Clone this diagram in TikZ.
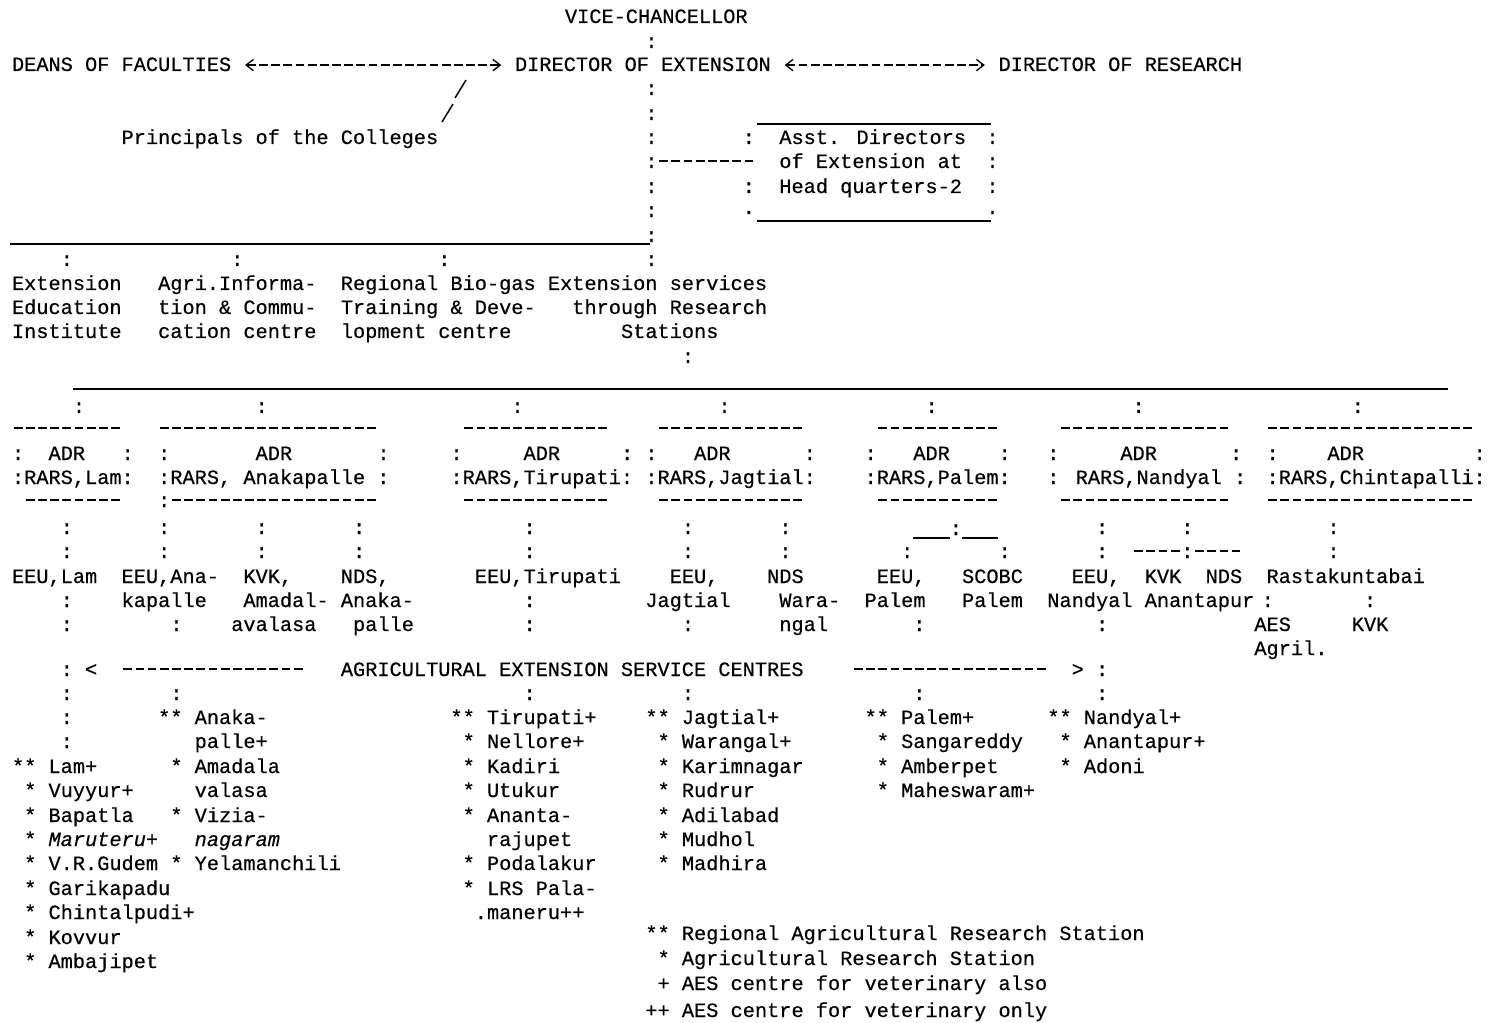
\documentclass[tikz,border=0pt]{standalone}
\usepackage{fontspec}
\setmainfont{Liberation Mono}[FakeBold=0.4]
\usetikzlibrary{arrows.meta}
\newcommand\tyfont{\fontsize{15.22pt}{18pt}\selectfont}
\newcounter{cnum}
\newcommand\tyX[1]{12+12.18*#1}
\newcommand\tyT[4]{\node[txt] (#1) at (\tyX{#2},#3) {#4};}
\newcommand\tyC[2]{\stepcounter{cnum}\node[txt] (k\arabic{cnum}) at (\tyX{#1},#2) {:};}
\newcommand\tyCs[2]{\foreach \yy in {#2}{\tyC{#1}{\yy}}}
\newcommand\tyR[2]{\foreach \cc in {#2}{\tyC{\cc}{#1}}}
\newcommand\tyH[3]{\draw[hy] ({\tyX{#1}+1.7},#3) -- ({\tyX{#2}+12.18-1.7},#3);}
\begin{document}
\begin{tikzpicture}[x=0.75pt,y=-0.75pt,
  txt/.style={anchor=mid west,inner sep=0pt,outer sep=0pt,font=\tyfont,yshift=-2.6pt},
  hy/.style={line width=1pt,dash pattern=on 6.6pt off 2.535pt},
  rule/.style={line width=1.3pt},
  arr/.style={hy,{Straight Barb[length=5.5pt,width=8.5pt]}-{Straight Barb[length=5.5pt,width=8.5pt]},shorten <=10.4pt,shorten >=10.3pt}]
\fill[white] (0,0) rectangle (1498,1022);
\useasboundingbox (0,0) rectangle (1498,1022);
% ---------- top ----------
\tyT{vc}{45.4}{16}{VICE-CHANCELLOR}
\tyC{52}{41}
\tyT{deans}{0}{64}{DEANS OF FACULTIES}
\tyT{dirext}{41.3}{64}{DIRECTOR OF EXTENSION}
\tyT{dirres}{81}{64}{DIRECTOR OF RESEARCH}
\draw[arr] ([yshift=1.8pt]deans.mid east) -- ([yshift=1.8pt]dirext.mid west);
\draw[arr] ([yshift=1.8pt]dirext.mid east) -- ([yshift=1.8pt]dirres.mid west);
\coordinate (s1a) at (466,80); \coordinate (s1b) at (455,98);
\coordinate (s2a) at (453,104); \coordinate (s2b) at (442,122);
\draw[line width=1.1pt] (s1a) -- (s1b);
\draw[line width=1.1pt] (s2a) -- (s2b);
\tyT{princ}{9}{137}{Principals of the Colleges}
\tyCs{52}{88,113,137,161,186,210,235}
\tyH{53}{60}{161}
% box of assistant directors
\draw[line width=1pt] (757,124) -- (991,124);
\tyCs{60}{137,186}
\tyCs{80}{137,161,186}
\tyT{ad1}{63}{137}{Asst. Directors}
\tyT{ad2}{63}{161}{of Extension at}
\tyT{ad3}{63}{186}{Head quarters-2}
\tyT{dotl}{60}{207}{.}
\tyT{dotr}{80}{207}{.}
\draw[line width=1pt] (757,221) -- (991,221);
% ---------- second level ----------
\draw[rule] (10,244) -- (650,244);
\tyR{259}{4,18,35,52}
\tyT{eei1}{0}{283}{Extension}
\tyT{eei2}{0}{307}{Education}
\tyT{eei3}{0}{331}{Institute}
\tyT{aic1}{12}{283}{Agri.Informa-}
\tyT{aic2}{12}{307}{tion \& Commu-}
\tyT{aic3}{12}{331}{cation centre}
\tyT{rbg1}{27}{283}{Regional Bio-gas}
\tyT{rbg2}{27}{307}{Training \& Deve-}
\tyT{rbg3}{27}{331}{lopment centre}
\tyT{esr1}{44}{283}{Extension services}
\tyT{esr2}{46}{307}{through Research}
\tyT{esr3}{50}{331}{Stations}
\tyC{55}{356}
\draw[rule] (73,389) -- (1448,389);
\tyR{406}{5,20,41,58,75,92,110}
% ---------- ADR boxes ----------
\tyH{0}{8}{428}   \tyH{1}{8}{500}
\tyH{12}{29}{428} \tyH{13}{29}{500}
\tyH{37}{48}{428} \tyH{37}{48}{500}
\tyH{53}{64}{428} \tyH{53}{64}{500}
\tyH{71}{80}{428} \tyH{71}{80}{500}
\tyH{86}{99}{428} \tyH{86}{99}{500}
\tyH{103}{119}{428} \tyH{103}{119}{500}
\tyR{453}{0,9,12,30,36,50,52,65,70,81,85,100,103,120}
\tyT{adr1}{3}{453}{ADR}
\tyT{adr2}{20}{453}{ADR}
\tyT{adr3}{42}{453}{ADR}
\tyT{adr4}{56}{453}{ADR}
\tyT{adr5}{74}{453}{ADR}
\tyT{adr6}{91}{453}{ADR}
\tyT{adr7}{108}{453}{ADR}
\tyT{rars1}{0}{477}{:RARS,Lam:}
\tyT{rars2}{12}{477}{:RARS, Anakapalle :}
\tyT{rars3}{36}{477}{:RARS,Tirupati:}
\tyT{rars4}{52}{477}{:RARS,Jagtial:}
\tyT{rars5}{70}{477}{:RARS,Palem:}
\tyT{rars6}{85}{477}{: RARS,Nandyal :}
\tyT{rars7}{103}{477}{:RARS,Chintapalli:}
% ---------- units below boxes ----------
\tyC{12}{500}
\tyR{527}{4,12,20,28,42,55,63,89,96,108}
\tyC{77}{528}
\draw[line width=1pt] (913,538) -- (950,538);
\draw[line width=1pt] (962,538) -- (998,538);
\tyR{551}{4,12,20,28,42,55,63,73,81,89,96,108}
\tyH{92}{95}{551} \tyH{97}{100}{551}
\tyT{u1}{0}{576}{EEU,Lam}
\tyT{u2}{9}{576}{EEU,Ana-}
\tyT{u3}{19}{576}{KVK,}
\tyT{u4}{27}{576}{NDS,}
\tyT{u5}{38}{576}{EEU,Tirupati}
\tyT{u6}{54}{576}{EEU,}
\tyT{u7}{62}{576}{NDS}
\tyT{u8}{71}{576}{EEU,}
\tyT{u9}{78}{576}{SCOBC}
\tyT{u10}{87}{576}{EEU,}
\tyT{u11}{93}{576}{KVK}
\tyT{u12}{98}{576}{NDS}
\tyT{u13}{103}{576}{Rastakuntabai}
\tyR{600}{4,42,102.6,111}
\tyT{v2}{9}{600}{kapalle}
\tyT{v3}{19}{600}{Amadal-}
\tyT{v4}{27}{600}{Anaka-}
\tyT{v6}{52}{600}{Jagtial}
\tyT{v7}{63}{600}{Wara-}
\tyT{v8}{70}{600}{Palem}
\tyT{v9}{78}{600}{Palem}
\tyT{v10}{85}{600}{Nandyal}
\tyT{v11}{93}{600}{Anantapur}
\tyR{624}{4,13,42,55,74,89}
\tyT{w3}{18}{624}{avalasa}
\tyT{w4}{28}{624}{palle}
\tyT{w7}{63}{624}{ngal}
\tyT{w12}{102}{624}{AES}
\tyT{w13}{110}{624}{KVK}
\tyT{w14}{102}{648}{Agril.}
% ---------- AES centres ----------
\tyR{669}{4,89}
\tyT{lt}{6}{669}{<}
\tyH{9}{23}{669}
\tyT{aesc}{27}{669}{AGRICULTURAL EXTENSION SERVICE CENTRES}
\tyH{69}{84}{669}
\tyT{gt}{87}{669}{>}
\tyR{693}{4,13,42,55,74,89}
\tyCs{4}{717,741}
% Lam
\tyT{l1}{0}{766}{** Lam+}
\tyT{l2}{1}{790}{* Vuyyur+}
\tyT{l3}{1}{815}{* Bapatla}
\tyT{l4}{1}{839}{* \textit{Maruteru+}}
\tyT{l5}{1}{863}{* V.R.Gudem}
\tyT{l6}{1}{888}{* Garikapadu}
\tyT{l7}{1}{912}{* Chintalpudi+}
\tyT{l8}{1}{937}{* Kovvur}
\tyT{l9}{1}{961}{* Ambajipet}
% Anakapalle
\tyT{a1}{12}{717}{** Anaka-}
\tyT{a2}{15}{741}{palle+}
\tyT{a3}{13}{766}{* Amadala}
\tyT{a4}{15}{790}{valasa}
\tyT{a5}{13}{815}{* Vizia-}
\tyT{a6}{15}{839}{\textit{nagaram}}
\tyT{a7}{13}{863}{* Yelamanchili}
% Tirupati
\tyT{t1}{36}{717}{** Tirupati+}
\tyT{t2}{37}{741}{* Nellore+}
\tyT{t3}{37}{766}{* Kadiri}
\tyT{t4}{37}{790}{* Utukur}
\tyT{t5}{37}{815}{* Ananta-}
\tyT{t6}{39}{839}{rajupet}
\tyT{t7}{37}{863}{* Podalakur}
\tyT{t8}{37}{888}{* LRS Pala-}
\tyT{t9}{38}{912}{.maneru++}
% Jagtial
\tyT{j1}{52}{717}{** Jagtial+}
\tyT{j2}{53}{741}{* Warangal+}
\tyT{j3}{53}{766}{* Karimnagar}
\tyT{j4}{53}{790}{* Rudrur}
\tyT{j5}{53}{815}{* Adilabad}
\tyT{j6}{53}{839}{* Mudhol}
\tyT{j7}{53}{863}{* Madhira}
% Palem
\tyT{p1}{70}{717}{** Palem+}
\tyT{p2}{71}{741}{* Sangareddy}
\tyT{p3}{71}{766}{* Amberpet}
\tyT{p4}{71}{790}{* Maheswaram+}
% Nandyal
\tyT{n1}{85}{717}{** Nandyal+}
\tyT{n2}{86}{741}{* Anantapur+}
\tyT{n3}{86}{766}{* Adoni}
% legend
\tyT{g1}{52}{933}{** Regional Agricultural Research Station}
\tyT{g2}{53}{958}{* Agricultural Research Station}
\tyT{g3}{53}{983}{+ AES centre for veterinary also}
\tyT{g4}{52}{1010}{++ AES centre for veterinary only}
\end{tikzpicture}
\end{document}
